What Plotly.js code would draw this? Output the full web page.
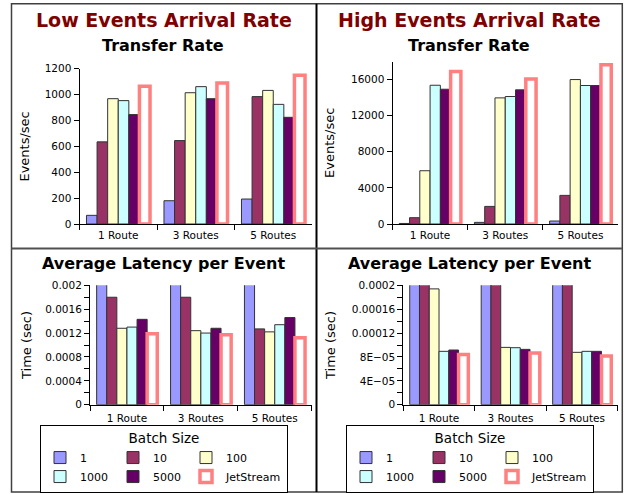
<!DOCTYPE html>
<html><head><meta charset="utf-8">
<script src="https://cdn.plot.ly/plotly-3.0.1.min.js"></script>
<style>html,body{margin:0;padding:0;background:#fff}#chart{width:633px;height:494px}</style>
</head><body><div id="chart"></div>
<script>
// ---------- data ----------
const categories = ['1 Route', '3 Routes', '5 Routes'];
const batchSizes = ['1', '10', '100', '1000', '5000', 'JetStream'];

// Low events arrival rate - transfer rate (events/sec)
const lowRate_b1     = [67, 180, 193];
const lowRate_b10    = [635, 645, 985];
const lowRate_b100   = [969, 1015, 1033];
const lowRate_b1000  = [954, 1062, 925];
const lowRate_b5000  = [846, 969, 825];
const lowRate_jet    = [1065, 1090, 1150];

// High events arrival rate - transfer rate (events/sec)
const highRate_b1    = [60, 180, 330];
const highRate_b10   = [700, 1950, 3170];
const highRate_b100  = [5900, 13970, 16000];
const highRate_b1000 = [15370, 14120, 15340];
const highRate_b5000 = [14930, 14860, 15340];
const highRate_jet   = [16880, 16070, 17650];

// Low events arrival rate - average latency per event (sec)
const lowLat_b1      = [0.0150, 0.0056, 0.0052];   // off the top of the axis
const lowLat_b10     = [0.00180, 0.00180, 0.00127];
const lowLat_b100    = [0.00128, 0.00124, 0.00122];
const lowLat_b1000   = [0.00130, 0.00120, 0.00134];
const lowLat_b5000   = [0.00143, 0.00128, 0.00146];
const lowLat_jet     = [0.00119, 0.00117, 0.00112];

// High events arrival rate - average latency per event (sec)
const highLat_b1     = [0.0167, 0.0056, 0.0030];   // off the top of the axis
const highLat_b10    = [0.00143, 0.00051, 0.00032]; // off the top of the axis
const highLat_b100   = [0.000194, 0.0000960, 0.0000877];
const highLat_b1000  = [0.0000894, 0.0000955, 0.0000894];
const highLat_b5000  = [0.0000916, 0.0000927, 0.0000894];
const highLat_jet    = [0.0000840, 0.0000865, 0.0000815];

// tick labels
const tlRateTicks    = [0, 200, 400, 600, 800, 1000, 1200];
const trRateTicks    = [0, 4000, 8000, 12000, 16000];
const trRateText     = ['0', '4000', '8000', '12000', '16000'];
const blLatTicks     = [0, 0.0004, 0.0008, 0.0012, 0.0016, 0.002];
const blLatText      = ['0', '0.0004', '0.0008', '0.0012', '0.0016', '0.002'];
const brLatTicks     = [0, 0.00004, 0.00008, 0.00012, 0.00016, 0.0002];
const brLatText      = ['0', '4E\u221205', '8E\u221205', '0.00012', '0.00016', '0.0002'];

// ---------- styles ----------
const fillColors = ['#9999FF', '#993366', '#FFFFCC', '#CCFFFF', '#660066', '#FFFFFF'];
const lineColors = ['#333333', '#333333', '#333333', '#333333', '#333333', '#FF8080'];
const lineWidths = [1, 1, 1, 1, 1, 3.5];

function makeTraces(series, xa, ya, legendId, show, groupPrefix) {
  return series.map((vals, i) => ({
    type: 'bar',
    name: batchSizes[i],
    x: categories,
    y: vals,
    xaxis: xa, yaxis: ya,
    legend: legendId,
    showlegend: show,
    legendgroup: groupPrefix + (i % 3),
    marker: { color: fillColors[i], line: { color: lineColors[i], width: lineWidths[i] } },
    hoverinfo: 'x+y+name'
  }));
}

const data = [].concat(
  makeTraces([lowRate_b1, lowRate_b10, lowRate_b100, lowRate_b1000, lowRate_b5000, lowRate_jet], 'x', 'y', 'legend', true, 'L'),
  makeTraces([highRate_b1, highRate_b10, highRate_b100, highRate_b1000, highRate_b5000, highRate_jet], 'x2', 'y2', 'legend2', true, 'R'),
  makeTraces([lowLat_b1, lowLat_b10, lowLat_b100, lowLat_b1000, lowLat_b5000, lowLat_jet], 'x3', 'y3', 'legend', false, 'L'),
  makeTraces([highLat_b1, highLat_b10, highLat_b100, highLat_b1000, highLat_b5000, highLat_jet], 'x4', 'y4', 'legend2', false, 'R')
);

const W = 633, H = 494;
const px = v => v / W;
const py = v => 1 - v / H;

const tickFont = { family: 'DejaVu Sans', size: 10.5, color: '#000' };
function xAxis(d0, d1, anchor, standoff) {
  return {
    domain: [px(d0), px(d1)], anchor: anchor, type: 'category',
    tickson: 'boundaries', ticks: 'outside', ticklen: 5, tickcolor: '#000',
    ticklabelstandoff: standoff,
    showline: true, linecolor: '#000', linewidth: 1,
    showgrid: false, zeroline: false, automargin: false,
    tickfont: tickFont, fixedrange: true
  };
}
function yAxis(top, bottom, anchor, range, title, standoff) {
  return {
    domain: [py(bottom), py(top)], anchor: anchor, range: range,
    ticks: 'outside', ticklen: 5, tickcolor: '#000',
    showline: true, linecolor: '#000', linewidth: 1,
    showgrid: false, zeroline: false, automargin: false,
    tickfont: tickFont, fixedrange: true,
    title: { text: title, standoff: standoff, font: { family: 'DejaVu Sans', size: 13, color: '#000' } }
  };
}

const ya = yAxis(68.8, 224, 'x', [0, 1200], 'Events/sec', 12);
ya.tickmode = 'array'; ya.tickvals = tlRateTicks;
const ya2 = yAxis(61.5, 224, 'x2', [0, 18000], 'Events/sec', 13);
ya2.tickmode = 'array'; ya2.tickvals = trRateTicks; ya2.ticktext = trRateText;
const ya3 = yAxis(285.3, 404.7, 'x3', [0, 0.002], 'Time (sec)', 10);
ya3.tickmode = 'array'; ya3.tickvals = blLatTicks; ya3.ticktext = blLatText;
ya3.minor = { tickmode: 'linear', tick0: 0, dtick: 0.0002, ticks: 'outside', ticklen: 5, tickcolor: '#000' };
const ya4 = yAxis(285.3, 404.7, 'x4', [0, 0.0002], 'Time (sec)', 13);
ya4.tickmode = 'array'; ya4.tickvals = brLatTicks; ya4.ticktext = brLatText;
ya4.minor = { tickmode: 'linear', tick0: 0, dtick: 0.00002, ticks: 'outside', ticklen: 5, tickcolor: '#000' };

function legendCfg(xPix) {
  return {
    x: px(xPix), xanchor: 'center', y: py(424.5), yanchor: 'top',
    orientation: 'h', traceorder: 'grouped', tracegroupgap: 10,
    entrywidth: 0, entrywidthmode: 'pixels', itemwidth: 30,
    bgcolor: '#FFFFFF', bordercolor: '#000', borderwidth: 1,
    font: { family: 'DejaVu Sans', size: 11, color: '#000' },
    title: { text: 'Batch Size', side: 'top center', font: { family: 'DejaVu Sans', size: 13.5, color: '#000' } }
  };
}

function ann(text, xPix, yPix, size, color) {
  return {
    text: text, xref: 'paper', yref: 'paper', x: px(xPix), y: py(yPix),
    xanchor: 'center', yanchor: 'middle', showarrow: false,
    font: { family: 'DejaVu Sans', size: size, color: color, weight: 'bold' }
  };
}

const layout = {
  width: W, height: H,
  margin: { l: 0, r: 0, t: 0, b: 0, pad: 0 },
  paper_bgcolor: '#FFFFFF', plot_bgcolor: 'rgba(0,0,0,0)',
  font: { family: 'DejaVu Sans', color: '#000' },
  barmode: 'group', bargap: 0.18, bargroupgap: 0,
  xaxis: xAxis(79.5, 312, 'y', 1),
  yaxis: ya,
  xaxis2: xAxis(392.5, 618, 'y2', 1),
  yaxis2: ya2,
  xaxis3: xAxis(90, 311.7, 'y3', 4),
  yaxis3: ya3,
  xaxis4: xAxis(403.3, 617.7, 'y4', 4),
  yaxis4: ya4,
  legend: legendCfg(164),
  legend2: legendCfg(470),
  showlegend: true,
  annotations: [
    ann('Low Events Arrival Rate', 163.5, 19.5, 19, '#800000'),
    ann('High Events Arrival Rate', 469.5, 19.5, 19, '#800000'),
    ann('Transfer Rate', 163, 45, 16, '#000'),
    ann('Transfer Rate', 469.3, 45, 16, '#000'),
    ann('Average Latency per Event', 163.5, 263, 16, '#000'),
    ann('Average Latency per Event', 469.3, 263, 16, '#000')
  ],
  shapes: [
    { type: 'rect', xref: 'paper', yref: 'paper', x0: px(11.5), x1: px(622.3), y0: py(492), y1: py(3.7),
      line: { color: '#404040', width: 1.5 }, layer: 'below' },
    { type: 'line', xref: 'paper', yref: 'paper', x0: px(316.5), x1: px(316.5), y0: py(492), y1: py(3.7),
      line: { color: '#000000', width: 2 } },
    { type: 'line', xref: 'paper', yref: 'paper', x0: px(11.5), x1: px(622.3), y0: py(248.5), y1: py(248.5),
      line: { color: '#505050', width: 2 } }
  ]
};

Plotly.newPlot('chart', data, layout, { displayModeBar: false, staticPlot: true });
</script>
</body></html>
